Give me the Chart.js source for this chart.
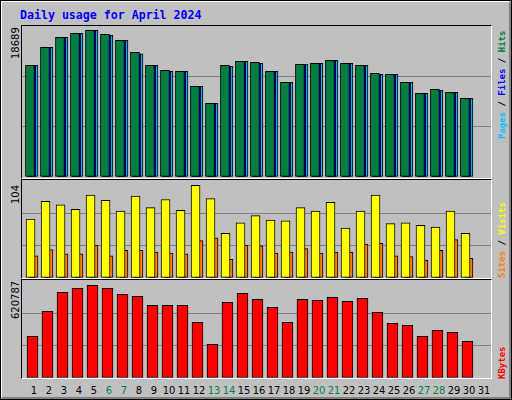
<!DOCTYPE html>
<html><head><meta charset="utf-8">
<script src="https://cdn.jsdelivr.net/npm/chart.js@4"></script>
<style>
html,body{margin:0;padding:0;}
#wrap{position:relative;width:512px;height:400px;background:#c0c0c0;box-sizing:border-box;border:1px solid #000;overflow:hidden;font-family:"DejaVu Sans Mono",monospace;}
#inner{position:absolute;left:0;top:0;right:0;bottom:0;border-top:1px solid #fff;border-left:1px solid #fff;border-right:2px solid #808080;border-bottom:2px solid #808080;}
.frame{position:absolute;box-sizing:border-box;border-top:1px solid #000;border-left:1px solid #000;border-right:1px solid #fff;border-bottom:1px solid #fff;}
canvas{position:absolute;}
.t{position:absolute;white-space:nowrap;font-size:11px;line-height:1;}
.rot{transform-origin:0 0;transform:rotate(-90deg);}
.r{font-family:"DejaVu Sans Mono",monospace;font-size:9px;font-weight:bold;}
.yl{font-family:"DejaVu Sans",sans-serif;font-size:10px;}
</style></head><body>
<div id="wrap"><div id="inner"></div>
<div class="t" style="left:19px;top:9px;color:#0000ff;font-weight:bold;font-size:11.6px;">Daily usage for April 2024</div>
<div class="frame" style="left:20px;top:24px;width:471px;height:154px;"></div>
<div class="frame" style="left:20px;top:178px;width:471px;height:100px;"></div>
<div class="frame" style="left:20px;top:278px;width:471px;height:100px;"></div>
<canvas id="c1" style="left:21px;top:25px;width:469px;height:151px;"></canvas>
<canvas id="c2" style="left:21px;top:180px;width:469px;height:97px;"></canvas>
<canvas id="c3" style="left:21px;top:280px;width:469px;height:97px;"></canvas>
<div class="t rot yl" style="left:10px;top:58px;">18689</div>
<div class="t rot yl" style="left:10px;top:203px;">104</div>
<div class="t rot yl" style="left:10px;top:318px;">620787</div>
<div class="t rot r" style="left:497px;top:138px;"><span style="color:#00c0ff">Pages</span> / <span style="color:#0000ff">Files</span> / <span style="color:#008040">Hits</span></div>
<div class="t rot r" style="left:497px;top:277px;"><span style="color:#ff8000">Sites</span> / <span style="color:#ffff00">Visits</span></div>
<div class="t rot r" style="left:497px;top:378px;color:#ff0000;">KBytes</div>
<div id="days"></div>
</div>
<script>
const days = Array.from({length:31},(_,i)=>i+1);
const weekend = [6,7,13,14,20,21,27,28];
const hits = [14231,16524,17798,18307,18689,18180,17416,15887,14231,13594,13466,11555,9389,14231,14740,14613,13466,12065,14358,14485,14868,14485,14231,13211,13084,12065,10663,11173,10791,10026];
const files = [14100,16450,17700,18200,18600,18050,17350,15700,14150,13450,13400,11500,9350,14050,14650,14450,13400,11950,14300,14400,14750,14350,14100,13050,13000,11950,10600,11050,10700,9950];
const pages = [14231,16524,17798,18307,18689,18050,17416,15700,14231,13466,13466,11555,9389,14100,14740,14485,13466,12065,14358,14485,14868,14485,14231,13084,13084,12065,10663,11050,10791,10026];
const visits = [66,86,82,77,93,87,75,92,79,88,76,104,89,50,62,70,65,64,79,75,85,56,75,93,61,62,59,57,75,50];
const sites = [25,32,27,27,37,25,31,31,29,28,27,42,45,21,37,36,28,29,33,28,29,29,38,39,25,24,20,31,43,22];
const kbytes = [279265,446690,573930,600720,620787,600720,560540,547140,486870,486870,486870,373020,225690,506960,567230,527050,473480,373020,527050,520360,540450,513660,533750,439990,366330,352930,279265,319450,306050,245780];

const dl = document.getElementById('days');
days.forEach(d=>{const e=document.createElement('div');e.className='t';e.textContent=d;
 e.style.left=(33+(d-1)*15)+'px';e.style.top='384px';e.style.transform='translateX(-50%)';e.style.fontSize='11px';e.style.fontFamily='DejaVu Sans Condensed, DejaVu Sans, sans-serif';
 e.style.color=weekend.includes(d)?'#008040':'#000';dl.appendChild(e);});

function pts(arr,shift){return arr.map((v,i)=>({x:i+1+shift,y:v}));}
function ds(arr,shift,color,w){return {data:pts(arr,shift),backgroundColor:color,borderColor:'#000',borderWidth:1,barThickness:w,borderSkipped:false,grouped:false};}
function mk(id,datasets,max){
 new Chart(document.getElementById(id),{type:'bar',data:{datasets},
 options:{responsive:false,animation:false,events:[],layout:{padding:0},
  datasets:{bar:{grouped:false}},
  plugins:{legend:{display:false},tooltip:{enabled:false}},
  scales:{x:{type:'linear',min:0.2,max:31.47,display:false,offset:false},
   y:{min:0,max:max,afterFit:s=>{s.width=0;},ticks:{display:false,stepSize:max/3},border:{display:false},
     grid:{color:c=>(c.index===1||c.index===2)?'#808080':'rgba(0,0,0,0)',lineWidth:1,drawTicks:false}}}}});
}
['c1','c2','c3'].forEach(id=>{const c=document.getElementById(id);c.width=469;c.height=parseInt(c.style.height);});
mk('c1',[ds(hits,-0.27,'#008040',9),ds(files,-0.17,'#0000ff',9),ds(pages,-0.07,'#00c0ff',10)],19237);
mk('c2',[ds(visits,-0.23,'#ffff00',9),ds(sites,0,'#ff8000',8)],108.8);
mk('c3',[ds(kbytes,-0.1,'#ff0000',11)],650100);
</script></body></html>
